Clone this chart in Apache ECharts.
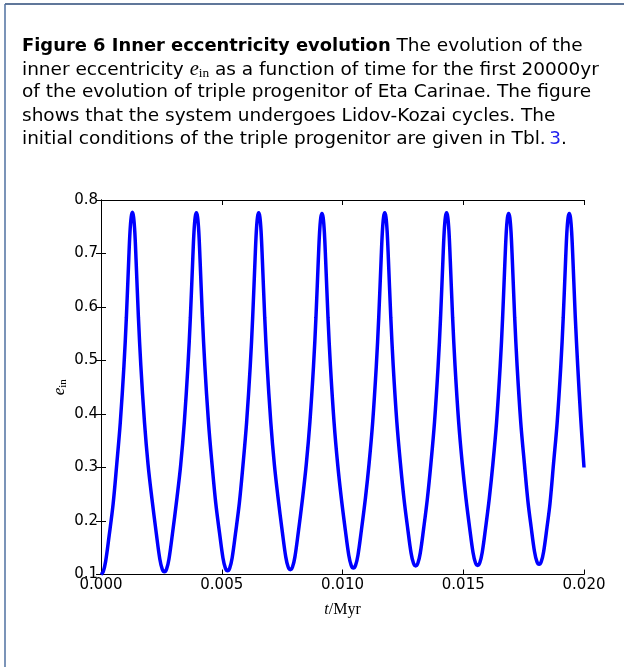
<!DOCTYPE html>
<html>
<head>
<meta charset="utf-8">
<script src="https://cdn.jsdelivr.net/npm/echarts@6/dist/echarts.min.js"></script>
<style>
html,body{margin:0;padding:0;background:#fff;}
#c{width:624px;height:667px;}
</style>
</head>
<body>
<div id="c"></div>
<script>
// ---- data (time in kyr, converted to Myr for the axis) ----
const time_kyr = [
  0.000, 0.090, 0.190, 0.330,
  0.500, 0.650, 0.800, 0.950, 1.050, 1.150, 1.200, 1.250, 1.300, 1.350, 1.400, 1.450, 1.550, 1.650, 1.800, 1.950, 2.100,
  2.295, 2.435, 2.535, 2.625, 2.715, 2.815, 2.955,
  3.150, 3.300, 3.450, 3.600, 3.700, 3.800, 3.850, 3.900, 3.950, 4.000, 4.050, 4.100, 4.200, 4.300, 4.450, 4.600, 4.750,
  4.910, 5.050, 5.150, 5.240, 5.330, 5.430, 5.570,
  5.730, 5.880, 6.030, 6.180, 6.280, 6.380, 6.430, 6.480, 6.530, 6.580, 6.630, 6.680, 6.780, 6.880, 7.030, 7.180, 7.330,
  7.510, 7.650, 7.750, 7.840, 7.930, 8.030, 8.170,
  8.350, 8.500, 8.650, 8.800, 8.900, 9.000, 9.050, 9.100, 9.150, 9.200, 9.250, 9.300, 9.400, 9.500, 9.650, 9.800, 9.950,
  10.120, 10.260, 10.360, 10.450, 10.540, 10.640, 10.780,
  10.950, 11.100, 11.250, 11.400, 11.500, 11.600, 11.650, 11.700, 11.750, 11.800, 11.850, 11.900, 12.000, 12.100, 12.250, 12.400, 12.550,
  12.700, 12.840, 12.940, 13.030, 13.120, 13.220, 13.360,
  13.510, 13.660, 13.810, 13.960, 14.060, 14.160, 14.210, 14.260, 14.310, 14.360, 14.410, 14.460, 14.560, 14.660, 14.810, 14.960, 15.110,
  15.265, 15.405, 15.505, 15.595, 15.685, 15.785, 15.925,
  16.080, 16.230, 16.380, 16.530, 16.630, 16.730, 16.780, 16.830, 16.880, 16.930, 16.980, 17.030, 17.130, 17.230, 17.380, 17.530, 17.680,
  17.810, 17.950, 18.050, 18.140, 18.230, 18.330, 18.470,
  18.590, 18.740, 18.890, 19.040, 19.140, 19.240, 19.290, 19.340, 19.390, 19.440, 19.490, 19.540, 19.640, 19.740, 19.860, 20.000
];
const e_in = [
  0.100, 0.105, 0.124, 0.170,
  0.231, 0.305, 0.385, 0.490, 0.580, 0.690, 0.740, 0.768, 0.777, 0.768, 0.740, 0.690, 0.580, 0.490, 0.385, 0.305, 0.245,
  0.175, 0.129, 0.110, 0.105, 0.110, 0.129, 0.175,
  0.245, 0.305, 0.385, 0.490, 0.580, 0.690, 0.740, 0.768, 0.776, 0.768, 0.740, 0.690, 0.580, 0.490, 0.385, 0.305, 0.234,
  0.177, 0.131, 0.112, 0.107, 0.112, 0.131, 0.177,
  0.234, 0.305, 0.385, 0.490, 0.580, 0.690, 0.740, 0.768, 0.776, 0.768, 0.740, 0.690, 0.580, 0.490, 0.385, 0.305, 0.244,
  0.179, 0.133, 0.114, 0.109, 0.114, 0.133, 0.179,
  0.244, 0.306, 0.385, 0.490, 0.580, 0.690, 0.739, 0.767, 0.775, 0.767, 0.739, 0.690, 0.580, 0.490, 0.385, 0.306, 0.243,
  0.182, 0.136, 0.117, 0.112, 0.117, 0.136, 0.182,
  0.243, 0.307, 0.385, 0.490, 0.580, 0.690, 0.740, 0.768, 0.776, 0.768, 0.740, 0.690, 0.580, 0.490, 0.385, 0.307, 0.240,
  0.186, 0.140, 0.121, 0.116, 0.121, 0.140, 0.186,
  0.240, 0.307, 0.385, 0.490, 0.580, 0.690, 0.740, 0.768, 0.776, 0.768, 0.740, 0.690, 0.580, 0.490, 0.385, 0.307, 0.243,
  0.187, 0.141, 0.122, 0.117, 0.122, 0.141, 0.187,
  0.243, 0.308, 0.385, 0.490, 0.580, 0.690, 0.739, 0.767, 0.775, 0.767, 0.739, 0.690, 0.580, 0.490, 0.385, 0.308, 0.236,
  0.189, 0.143, 0.124, 0.119, 0.124, 0.143, 0.189,
  0.232, 0.308, 0.385, 0.490, 0.580, 0.690, 0.739, 0.767, 0.775, 0.767, 0.739, 0.690, 0.580, 0.490, 0.395, 0.300
];
const xTickLabels = ['0.000', '0.005', '0.010', '0.015', '0.020'];
const yTickLabels = ['0.1', '0.2', '0.3', '0.4', '0.5', '0.6', '0.7', '0.8'];
const captionLines = [
  '{b|Figure 6 Inner eccentricity evolution} The evolution of the',
  'inner eccentricity {e|e}{s|in} as a function of time for the first 20000yr',
  'of the evolution of triple progenitor of Eta Carinae. The figure',
  'shows that the system undergoes Lidov-Kozai cycles. The',
  'initial conditions of the triple progenitor are given in Tbl.\u2009{l|3}.'
];

// ---- build ----
const seriesData = time_kyr.map((t, i) => [t / 1000, e_in[i]]);
const xMin = 0, xMax = 0.02, xStep = 0.005;
const yMin = 0.1, yMax = 0.8, yStep = 0.1;

const sansFont = '"DejaVu Sans", sans-serif';
const serifFont = '"Liberation Serif", "DejaVu Serif", serif';

// fit caption size so that line 2 spans the same width as in the figure
const cv = document.createElement('canvas').getContext('2d');
cv.font = '100px "DejaVu Sans"';
const plain2 = 'inner eccentricity ein as a function of time for the first 20000yr';
const capSize = Math.round(585 / cv.measureText(plain2).width * 100 * 10) / 10;

const captionRich = {
  b: { fontWeight: 'bold', fontFamily: sansFont, fontSize: capSize - 0.6, fill: '#000' },
  e: { fontStyle: 'italic', fontFamily: serifFont, fontSize: capSize + 2, fill: '#000' },
  s: { fontFamily: serifFont, fontSize: capSize * 0.72, fill: '#000', padding: [7, 0, 0, 0] },
  l: { fontFamily: sansFont, fontSize: capSize, fill: '#2222ee' }
};
const lineYs = [47.5, 70.8, 94, 117.3, 140.6];
const graphics = captionLines.map((txt, i) => ({
  type: 'text',
  left: 22,
  top: lineYs[i] - capSize * 0.6,
  style: {
    text: txt,
    rich: captionRich,
    font: capSize + 'px ' + sansFont,
    fill: '#000'
  }
}));
graphics.push(
  { type: 'line', shape: { x1: 5, y1: 4, x2: 624, y2: 4 }, style: { stroke: '#2b4a78', lineWidth: 1.5 } },
  { type: 'line', shape: { x1: 5, y1: 4, x2: 5, y2: 667 }, style: { stroke: '#4f70a0', lineWidth: 1.5 } }
);

const tickLbl = (arr, lo, step) => (v) => {
  const k = Math.round((v - lo) / step);
  return arr[k] !== undefined ? arr[k] : '';
};

const axisCommon = {
  axisLine: { show: true, lineStyle: { color: '#000', width: 1 } },
  axisTick: { show: true, inside: true, length: 5, lineStyle: { color: '#000', width: 1 } },
  splitLine: { show: false }
};

const option = {
  backgroundColor: '#fff',
  animation: false,
  graphic: graphics,
  grid: { left: 101, right: 40, top: 200, bottom: 92.5, containLabel: false },
  xAxis: [
    Object.assign({
      type: 'value', position: 'bottom', min: xMin, max: xMax, interval: xStep,
      axisLabel: { formatter: tickLbl(xTickLabels, xMin, xStep), color: '#000', fontSize: 15, fontFamily: sansFont, margin: 3 },
      name: '{i|t}{r|/Myr}', nameLocation: 'middle', nameGap: 27, nameMoveOverlap: false,
      nameTextStyle: { rich: {
        i: { fontStyle: 'italic', fontFamily: serifFont, fontSize: 16, color: '#000' },
        r: { fontFamily: serifFont, fontSize: 16, color: '#000' }
      } }
    }, axisCommon),
    Object.assign({
      type: 'value', position: 'top', min: xMin, max: xMax, interval: xStep,
      axisLabel: { show: false }
    }, axisCommon)
  ],
  yAxis: [
    Object.assign({
      type: 'value', position: 'left', min: yMin, max: yMax, interval: yStep,
      axisLabel: { formatter: tickLbl(yTickLabels, yMin, yStep), color: '#000', fontSize: 15, fontFamily: sansFont, margin: 3 },
      name: '{i|e}{s|in}', nameLocation: 'middle', nameGap: 32, nameRotate: 90, nameMoveOverlap: false,
      nameTextStyle: { rich: {
        i: { fontStyle: 'italic', fontFamily: serifFont, fontSize: 17, color: '#000' },
        s: { fontFamily: serifFont, fontSize: 11, color: '#000', padding: [8, 0, 0, 0] }
      } }
    }, axisCommon),
    Object.assign({
      type: 'value', position: 'right', min: yMin, max: yMax, interval: yStep,
      axisLabel: { show: false }
    }, axisCommon)
  ],
  series: [{
    type: 'line',
    xAxisIndex: 0, yAxisIndex: 0,
    data: seriesData,
    showSymbol: false,
    smooth: 0.35,
    lineStyle: { color: '#0000ff', width: 3.5 },
    clip: true
  }]
};

const chart = echarts.init(document.getElementById('c'), null, { renderer: 'canvas' });
chart.setOption(option);
</script>
</body>
</html>
